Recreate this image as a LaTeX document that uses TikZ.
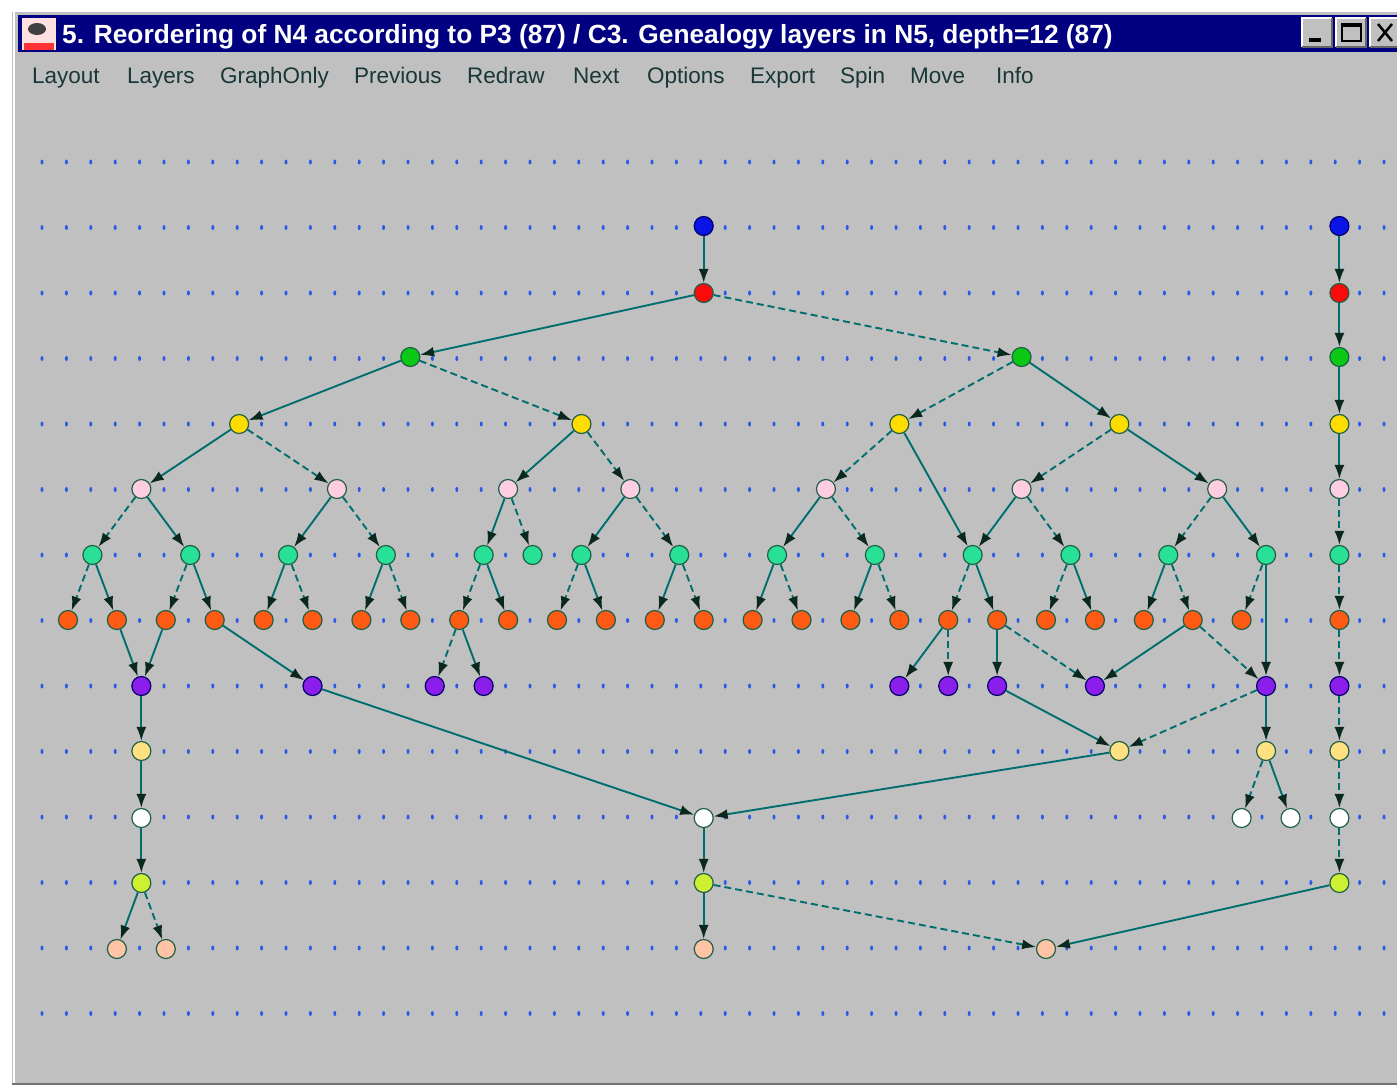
\documentclass[tikz,border=0pt]{standalone}
\usepackage{fontspec}
\setmainfont{Liberation Sans}
\usetikzlibrary{arrows.meta}
\definecolor{canvas}{RGB}{192,192,192}
\definecolor{titlebar}{RGB}{0,0,128}
\definecolor{menutext}{RGB}{25,55,55}
\definecolor{dotcol}{RGB}{40,90,230}
\definecolor{edgecol}{RGB}{0,110,110}
\definecolor{tipcol}{RGB}{10,40,30}
\definecolor{vxline}{RGB}{30,95,70}
\definecolor{nblue}{RGB}{10,20,230}
\definecolor{nred}{RGB}{250,10,10}
\definecolor{ngreen}{RGB}{10,200,20}
\definecolor{nyellow}{RGB}{255,220,0}
\definecolor{npink}{RGB}{255,205,225}
\definecolor{nteal}{RGB}{40,225,150}
\definecolor{norange}{RGB}{255,90,20}
\definecolor{npurple}{RGB}{140,30,235}
\definecolor{nlyellow}{RGB}{255,225,130}
\definecolor{nygreen}{RGB}{205,240,50}
\definecolor{npeach}{RGB}{255,195,165}
\begin{document}
\begin{tikzpicture}[x=1pt,y=-1pt,
  vx/.style={circle,draw=vxline,fill=#1,line width=1.2pt,inner sep=0pt,minimum size=19pt},
  solidlink/.style={draw=edgecol,line width=1.9pt,-{Latex[length=14pt,width=10pt,color=tipcol]}},
  dashlink/.style={solidlink,dash pattern=on 7pt off 4pt},
  menu/.style={anchor=base west,inner sep=0pt,text=menutext,font=\fontsize{22.5}{22.5}\selectfont}]
\useasboundingbox (0,0) rectangle (1397,1087);
% window
\fill[white] (0,0) rectangle (1397,1087);
\fill[canvas] (12,12) rectangle (1397,1084);
\draw[white,line width=2pt] (14,12) -- (14,1084);
\draw[black!55,line width=1.5pt] (12,1084) -- (1397,1084);
\fill[titlebar] (18,15) rectangle (1397,52);
\fill[red!12] (22,18) rectangle (56,50);
\fill[black!75] (37,29) ellipse (9pt and 6pt);
\fill[red!80] (24,43) rectangle (54,50);
\node[anchor=base west,inner sep=0pt,text=white,font=\fontsize{26.3}{26.3}\selectfont\bfseries]
  (title) at (62,43) {5. Reordering of N4 according to P3 (87) / C3. Genealogy layers in N5, depth=12 (87)};
% buttons
\foreach \bx in {1302,1336,1370}{
  \fill[canvas] (\bx,18) rectangle ++(30,29);
  \draw[white,line width=1.5pt] (\bx,47) -- (\bx,18) -- ++(30,0);
  \draw[black!60,line width=1.5pt] (\bx+30,18) -- ++(0,29) -- (\bx,47);
}
\fill[black] (1309,38) rectangle (1321,42);
\draw[black,line width=1.5pt] (1342,24) rectangle (1361,41);
\draw[black,line width=3pt] (1342,25) -- (1361,25);
\draw[black,line width=2.5pt] (1378,24) -- (1392,41) (1392,24) -- (1378,41);
% menu
\node[menu] (layout) at (32,83) {Layout};
\node[menu] (layers) at (127,83) {Layers};
\node[menu] (graphonly) at (220,83) {GraphOnly};
\node[menu] (previous) at (354,83) {Previous};
\node[menu] (redraw) at (467,83) {Redraw};
\node[menu] (next) at (573,83) {Next};
\node[menu] (options) at (647,83) {Options};
\node[menu] (export) at (750,83) {Export};
\node[menu] (spin) at (840,83) {Spin};
\node[menu] (move) at (910,83) {Move};
\node[menu] (info) at (996,83) {Info};
% layer grid
\foreach \r in {0,...,13}
  \foreach \c in {0,...,55}
    \fill[dotcol] ({42+24.4*\c},{162+65.5*\r}) ellipse (1.5pt and 2.5pt);
% vertices, one row per layer
\foreach \m in {26,52} \node[vx=nblue,draw=blue!40!black] (bl\m) at ({68+24.45*\m},226) {};
\foreach \m in {26,52} \node[vx=nred] (rd\m) at ({68+24.45*\m},293) {};
\foreach \m in {14,39,52} \node[vx=ngreen] (gr\m) at ({68+24.45*\m},357) {};
\foreach \m in {7,21,34,43,52} \node[vx=nyellow] (ye\m) at ({68+24.45*\m},424) {};
\foreach \m in {3,11,18,23,31,39,47,52} \node[vx=npink] (pk\m) at ({68+24.45*\m},489) {};
\foreach \m in {1,5,9,13,17,19,21,25,29,33,37,41,45,49,52} \node[vx=nteal] (tq\m) at ({68+24.45*\m},555) {};
\foreach \m in {0,2,...,48,52} \node[vx=norange] (or\m) at ({68+24.45*\m},620) {};
\foreach \m in {3,10,15,17,34,36,38,42,49,52} \node[vx=npurple,draw=blue!40!black] (pu\m) at ({68+24.45*\m},686) {};
\foreach \m in {3,43,49,52} \node[vx=nlyellow] (ly\m) at ({68+24.45*\m},751) {};
\foreach \m in {3,26,48,50,52} \node[vx=white] (wh\m) at ({68+24.45*\m},818) {};
\foreach \m in {3,26,52} \node[vx=nygreen] (yg\m) at ({68+24.45*\m},883) {};
\foreach \m in {2,4,26,40} \node[vx=npeach] (pc\m) at ({68+24.45*\m},949) {};
% solid edges
\foreach \a/\b in {bl26/rd26,bl52/rd52,rd26/gr14,rd52/gr52,gr14/ye7,gr39/ye43,gr52/ye52,
  ye7/pk3,ye21/pk18,ye34/tq37,ye43/pk47,ye52/pk52,
  pk3/tq5,pk11/tq9,pk18/tq17,pk23/tq21,pk31/tq29,pk39/tq37,pk47/tq49,
  tq1/or2,tq5/or6,tq9/or8,tq13/or12,tq17/or18,tq21/or22,tq25/or24,tq29/or28,tq33/or32,
  tq37/or38,tq41/or42,tq45/or44,tq49/pu49,
  or2/pu3,or4/pu3,or6/pu10,or16/pu17,or36/pu34,or38/pu38,or46/pu42,
  pu3/ly3,pu10/wh26,pu38/ly43,pu49/ly49,ly3/wh3,ly43/wh26,ly49/wh50,
  wh3/yg3,wh26/yg26,yg3/pc2,yg26/pc26,yg52/pc40}
  \draw[solidlink] (\a) -- (\b);
% dashed edges
\foreach \a/\b in {rd26/gr39,gr14/ye21,gr39/ye34,ye7/pk11,ye21/pk23,ye34/pk31,ye43/pk39,
  pk3/tq1,pk11/tq13,pk18/tq19,pk23/tq25,pk31/tq33,pk39/tq41,pk47/tq45,pk52/tq52,
  tq1/or0,tq5/or4,tq9/or10,tq13/or14,tq17/or16,tq21/or20,tq25/or26,tq29/or30,tq33/or34,
  tq37/or36,tq41/or40,tq45/or46,tq49/or48,tq52/or52,
  or16/pu15,or36/pu36,or38/pu42,or46/pu49,or52/pu52,
  pu49/ly43,pu52/ly52,ly49/wh48,ly52/wh52,wh52/yg52,yg3/pc4,yg26/pc40}
  \draw[dashlink] (\a) -- (\b);
\end{tikzpicture}
\end{document}
